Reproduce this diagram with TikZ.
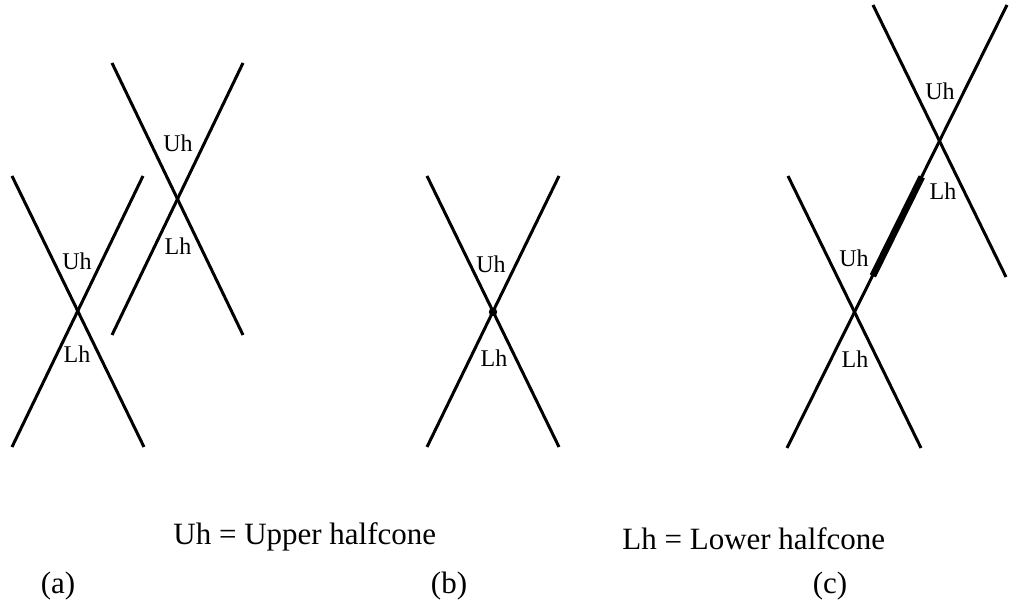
\documentclass[tikz,border=0pt]{standalone}
\usepackage{fontspec}
\setmainfont{Liberation Serif}
\usetikzlibrary{calc}

\begin{document}
\begin{tikzpicture}[x=0.5pt, y=-0.5pt,
  cone/.style={line width=1.5pt},
  overlap/.style={line width=3.4pt},
  half/.style={anchor=base, inner sep=0pt, font=\fontsize{12}{14}\selectfont},
  legend/.style={anchor=base west, inner sep=0pt, font=\fontsize{15.5}{18}\selectfont},
  tag/.style={anchor=base, inner sep=0pt, font=\fontsize{15.5}{18}\selectfont}]
  \useasboundingbox (0,0) rectangle (1013,613);

  % (a) two separate cones
  \coordinate (aLnw) at (12,176);  \coordinate (aLse) at (144,447);
  \coordinate (aLne) at (143,176); \coordinate (aLsw) at (12,447);
  \coordinate (aUnw) at (112,63);  \coordinate (aUse) at (243,335);
  \coordinate (aUne) at (243,63);  \coordinate (aUsw) at (112,335);
  \draw[cone] (aLnw) -- (aLse);
  \draw[cone] (aLne) -- (aLsw);
  \draw[cone] (aUnw) -- (aUse);
  \draw[cone] (aUne) -- (aUsw);
  \node[half] (aLuh) at (77,270) {Uh};
  \node[half] (aLlh) at (77,363) {Lh};
  \node[half] (aUuh) at (178,152) {Uh};
  \node[half] (aUlh) at (178,255) {Lh};

  % (b) one cone, apex marked
  \coordinate (bnw) at (427,176); \coordinate (bse) at (559,447);
  \coordinate (bne) at (559,176); \coordinate (bsw) at (427,447);
  \draw[cone] (bnw) -- (bse);
  \draw[cone] (bne) -- (bsw);
  \coordinate (bapex) at (493,312);
  \fill (bapex) circle[radius=2.1pt];
  \node[half] (buh) at (491,273) {Uh};
  \node[half] (blh) at (494,367) {Lh};

  % (c) cones sharing a generator
  \coordinate (cLnw) at (788,176);  \coordinate (cLse) at (921,448);
  \coordinate (cUnw) at (873,5);    \coordinate (cUse) at (1006,277);
  \coordinate (cUne) at (1007,5);   \coordinate (cLsw) at (787,448);
  \coordinate (cLapex) at (855,312); \coordinate (cUapex) at (940,140);
  \draw[cone] (cLnw) -- (cLse);
  \draw[cone] (cUnw) -- (cUse);
  \draw[cone] (cUne) -- (cLsw);
  \draw[overlap] ($(cLapex)!0.21!(cUapex)$) -- ($(cLapex)!0.785!(cUapex)$);
  \node[half] (cUuh) at (940,100) {Uh};
  \node[half] (cUlh) at (943,200) {Lh};
  \node[half] (cLuh) at (854,267) {Uh};
  \node[half] (cLlh) at (855,368) {Lh};

  \node[legend] (keyU) at (173,545) {Uh = Upper halfcone};
  \node[legend] (keyL) at (622,550) {Lh = Lower halfcone};
  \node[tag] (taga) at (58,594) {(a)};
  \node[tag] (tagb) at (449,594) {(b)};
  \node[tag] (tagc) at (830,594) {(c)};
\end{tikzpicture}
\end{document}
